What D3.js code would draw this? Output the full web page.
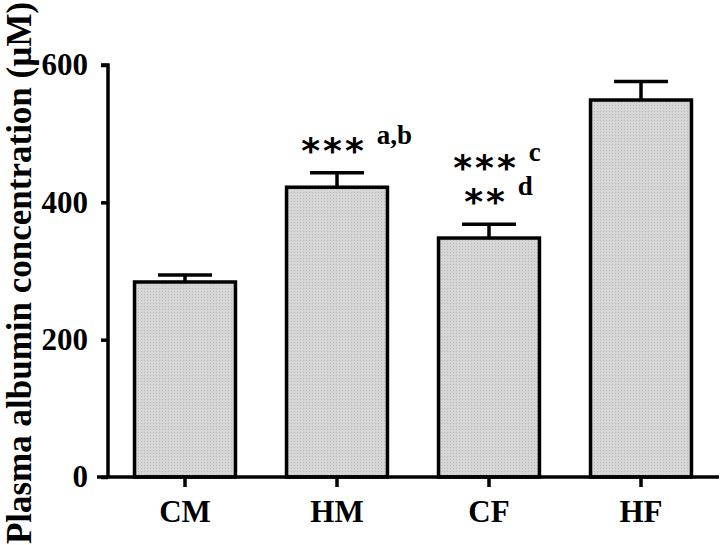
<!DOCTYPE html>
<html>
<head>
<meta charset="utf-8">
<script src="https://cdn.jsdelivr.net/npm/d3@7"></script>
<style>
  body { margin: 0; background: #fff; }
  svg { display: block; }
</style>
</head>
<body>
<div id="chart"></div>
<script>
// data
const groups = ["CM", "HM", "CF", "HF"];
const means = [284, 422, 348, 549];
const errors = [10, 21, 20, 27];
const yTicks = [0, 200, 400, 600];
// significance marks above bars: [group, stars, letter, row from bottom]
const marks = [
    ["HM", "***", "a,b", 0],
    ["CF", "***", "c", 1],
    ["CF", "**", "d", 0]
];

const width = 721;
const height = 545;

const svg = d3.select("#chart").append("svg")
    .attr("width", width)
    .attr("height", height);

// dotted grey fill like the original
const defs = svg.append("defs");
const pat = defs.append("pattern")
    .attr("id", "dots")
    .attr("width", 3)
    .attr("height", 3)
    .attr("patternUnits", "userSpaceOnUse");
pat.append("rect").attr("width", 3).attr("height", 3).attr("fill", "#d6d6d6");
pat.append("rect").attr("width", 1).attr("height", 1).attr("fill", "#b9b9b9");

const x = d3.scaleBand()
    .domain(groups)
    .range([109, 717])
    .paddingInner(0.336)
    .paddingOuter(0.168);

const y = d3.scaleLinear()
    .domain([0, 600])
    .range([477, 65]);

const font = "'Liberation Serif', 'Times New Roman', serif";

// bars
svg.append("g")
    .selectAll("rect")
    .data(groups)
    .join("rect")
        .attr("x", d => x(d))
        .attr("y", (d, i) => y(means[i]))
        .attr("width", x.bandwidth())
        .attr("height", (d, i) => y(0) - y(means[i]))
        .attr("fill", "url(#dots)")
        .attr("stroke", "#000")
        .attr("stroke-width", 3.5)

// error bars (upper only)
const err = svg.append("g")
    .attr("stroke", "#000")
    .attr("stroke-width", 3.5)
err.selectAll("line.v")
    .data(groups)
    .join("line")
        .attr("class", "v")
        .attr("x1", d => x(d) + x.bandwidth() / 2)
        .attr("x2", d => x(d) + x.bandwidth() / 2)
        .attr("y1", (d, i) => y(means[i]))
        .attr("y2", (d, i) => y(means[i] + errors[i]))
err.selectAll("line.cap")
    .data(groups)
    .join("line")
        .attr("class", "cap")
        .attr("x1", d => x(d) + x.bandwidth() / 2 - 27)
        .attr("x2", d => x(d) + x.bandwidth() / 2 + 27)
        .attr("y1", (d, i) => y(means[i] + errors[i]))
        .attr("y2", (d, i) => y(means[i] + errors[i]))

// y axis
const yAxis = svg.append("g")
    .attr("transform", "translate(108,0)")
    .call(d3.axisLeft(y).tickValues(yTicks).tickSize(7).tickPadding(13))
yAxis.select(".domain").attr("d", `M0,${y(0)}V${y(600)}H-7`)

// x axis
const xAxis = svg.append("g")
    .attr("transform", `translate(0,${y(0)})`)
    .call(d3.axisBottom(x).tickSize(10).tickPadding(13))
xAxis.select(".domain").attr("d", "M97,0H719")

svg.selectAll(".domain, .tick line")
    .attr("stroke", "#000")
    .attr("stroke-width", 3.5)
svg.selectAll(".tick text")
    .attr("fill", "#000")
    .style("font-family", font)
    .style("font-weight", "bold")
    .style("font-size", "31px")

// y title
svg.append("text")
    .attr("transform", "translate(31,273) rotate(-90)")
    .attr("text-anchor", "middle")
    .style("font-family", font)
    .style("font-weight", "bold")
    .style("font-size", "35px")
    .text("Plasma albumin concentration (µM)")

// stars and letters, one text per bar so the rows stack in a single block
const markG = svg.append("g")
groups.forEach((g, i) => {
    const rows = marks.filter(m => m[0] === g);
    if (!rows.length) return;
    const cx = x(g) + x.bandwidth() / 2;
    const cap = y(means[i] + errors[i]);
    const txt = markG.append("text").attr("fill", "#000");
    rows.forEach(m => {
        const starMid = cap - 31 - 34 * m[3];
        const s = txt.append("tspan")
            .attr("x", cx - 3)
            .attr("y", starMid + 21)
            .attr("text-anchor", "middle")
            .style("font-family", "'DejaVu Sans', sans-serif")
            .style("font-weight", "bold")
            .style("font-size", "36px")
            .style("letter-spacing", "3px")
            .text(m[1])
        const w = s.node().getComputedTextLength();
        txt.append("tspan")
            .attr("x", cx - 3 + w / 2 + 10)
            .attr("y", starMid + 2)
            .attr("text-anchor", "start")
            .style("font-family", font)
            .style("font-weight", "bold")
            .style("font-size", "27px")
            .text(m[2])
    })
})
</script>
</body>
</html>
